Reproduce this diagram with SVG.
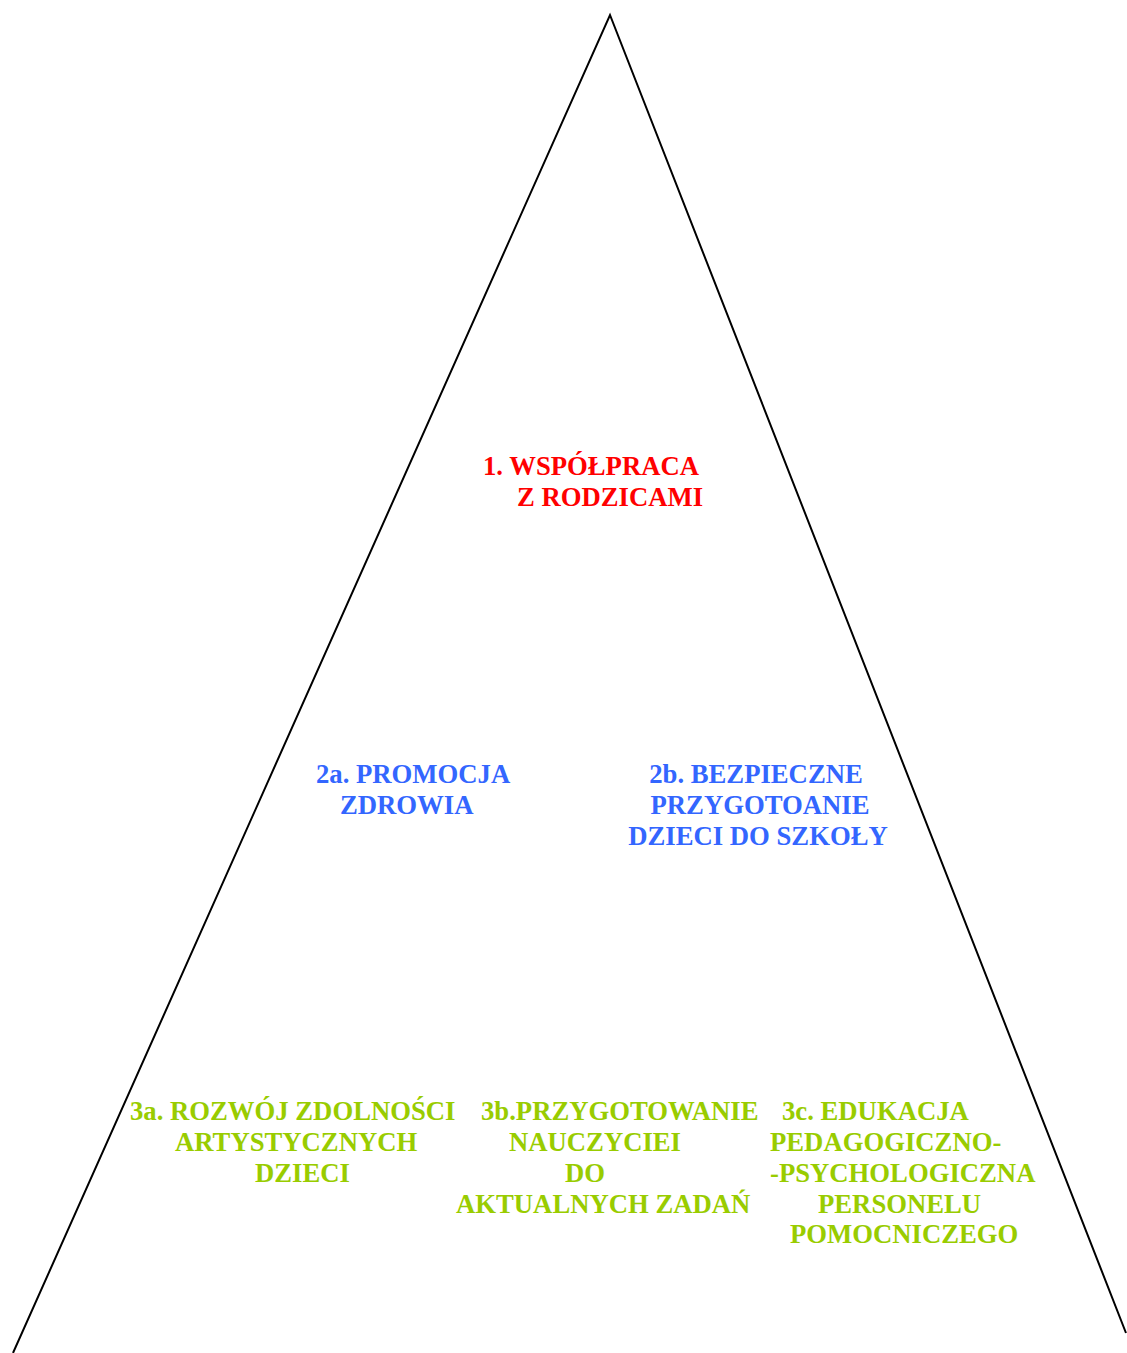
<svg xmlns="http://www.w3.org/2000/svg" width="1127" height="1353" viewBox="0 0 1127 1353">
<style>
text{font-family:"Liberation Serif","Times New Roman",serif;font-weight:bold;font-size:26.7px}
.r{fill:#FF0000}.b{fill:#3366FF}.g{fill:#99CC00}
.edge{fill:none;stroke:#000;stroke-width:2}
</style>
<rect width="1127" height="1353" fill="#fff"/>
<g id="connectors">
<polyline class="edge" points="13,1353 610,15 1126,1333"/>
</g>
<g id="n1" class="r">
<text x="483" y="475">1. WSPÓŁPRACA</text>
<text x="517" y="506">Z RODZICAMI</text>
</g>
<g id="n2a" class="b">
<text x="316" y="783">2a. PROMOCJA</text>
<text x="340" y="814">ZDROWIA</text>
</g>
<g id="n2b" class="b" text-anchor="middle">
<text x="756" y="783">2b. BEZPIECZNE</text>
<text x="760" y="814">PRZYGOTOANIE</text>
<text x="758" y="845">DZIECI DO SZKOŁY</text>
</g>
<g id="n3a" class="g">
<text x="130" y="1120">3a. ROZWÓJ ZDOLNOŚCI</text>
<text x="175" y="1151">ARTYSTYCZNYCH</text>
<text x="255" y="1182">DZIECI</text>
</g>
<g id="n3b" class="g">
<text x="481" y="1120">3b.PRZYGOTOWANIE</text>
<text x="509" y="1151">NAUCZYCIEI</text>
<text x="565" y="1182">DO</text>
<text x="456" y="1213">AKTUALNYCH ZADAŃ</text>
</g>
<g id="n3c" class="g">
<text x="782" y="1120">3c. EDUKACJA</text>
<text x="770" y="1151">PEDAGOGICZNO-</text>
<text x="770" y="1182">-PSYCHOLOGICZNA</text>
<text x="818" y="1213">PERSONELU</text>
<text x="790" y="1243">POMOCNICZEGO</text>
</g>
</svg>
